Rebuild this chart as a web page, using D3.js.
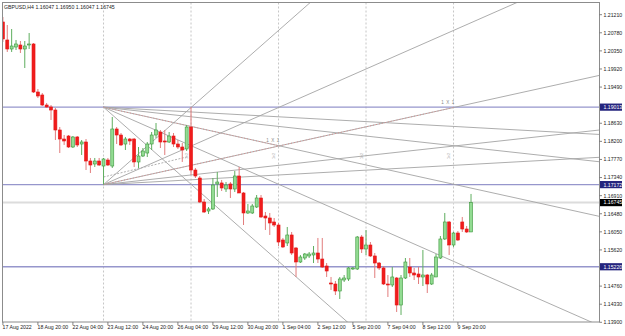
<!DOCTYPE html>
<html>
<head>
<meta charset="utf-8">
<script src="https://cdn.jsdelivr.net/npm/d3@7/dist/d3.min.js"></script>
<style>
html,body{margin:0;padding:0;background:#fff;}
svg{display:block;}
text{font-family:"Liberation Sans",Arial,sans-serif;}
</style>
</head>
<body>
<svg id="chart" width="625" height="336"></svg>
<script>
// ---------------- data ----------------
const chartTitle = "GBPUSD,H4  1.16047 1.16950 1.16047 1.16745";

const opens = [1.21037,1.20609,1.20395,1.20442,1.20490,1.20395,1.20490,1.20514,1.19373,1.19302,
1.19064,1.19017,1.18945,1.18470,1.18256,1.18327,1.18066,1.18304,1.18137,1.18185,
1.17733,1.17662,1.17733,1.17614,1.17757,1.17614,1.18494,1.18351,1.18137,1.18256,
1.18256,1.17710,1.17852,1.17923,1.18137,1.18351,1.18422,1.18209,1.18185,1.18327,
1.18137,1.18066,1.18019,1.18541,1.17519,1.17329,1.16759,1.16545,1.16593,1.17187,
1.17211,1.17068,1.17187,1.17068,1.17377,1.16973,1.16498,1.16498,1.16640,1.16854,
1.16426,1.16379,1.16284,1.16212,1.15856,1.15785,1.15975,1.15666,1.15333,1.15428,
1.15476,1.15500,1.15547,1.15404,1.15238,1.14834,1.14810,1.14644,1.14905,1.14929,
1.15167,1.15167,1.15927,1.15642,1.15737,1.15476,1.15309,1.15191,1.14810,1.14787,
1.14953,1.14311,1.14953,1.15214,1.15072,1.15048,1.14977,1.15024,1.14810,1.14977,
1.15428,1.15880,1.16284,1.15737,1.16022,1.16284,1.16117,1.16047];

const highs = [1.21155,1.20965,1.20870,1.20609,1.20585,1.20585,1.20775,1.20537,1.19444,1.19349,
1.19112,1.19064,1.18993,1.18541,1.18351,1.18351,1.18327,1.18327,1.18232,1.18256,
1.17805,1.17805,1.17805,1.17805,1.17805,1.18779,1.18541,1.18399,1.18304,1.18280,
1.18280,1.18066,1.18042,1.18185,1.18422,1.18636,1.18470,1.18470,1.18422,1.18399,
1.18232,1.18161,1.18589,1.19017,1.17567,1.17377,1.16830,1.16640,1.17329,1.17472,
1.17282,1.17234,1.17234,1.17496,1.17591,1.16997,1.16711,1.16711,1.16925,1.16925,
1.16521,1.16498,1.16379,1.16260,1.15904,1.16165,1.16046,1.15690,1.15500,1.15547,
1.15571,1.15713,1.15904,1.15904,1.15309,1.14977,1.14882,1.14977,1.15024,1.15214,
1.15214,1.15951,1.15975,1.16094,1.15808,1.15547,1.15333,1.15238,1.15024,1.15214,
1.14977,1.15024,1.15428,1.15428,1.15191,1.15214,1.15618,1.15048,1.15072,1.15523,
1.15951,1.16498,1.16307,1.16046,1.16070,1.16403,1.16189,1.16950];

const lows = [1.20561,1.20324,1.20324,1.20371,1.20300,1.19943,1.20395,1.19349,1.19230,1.19040,
1.18993,1.18708,1.18232,1.17923,1.18114,1.18042,1.18042,1.18066,1.17876,1.17519,
1.17448,1.17591,1.17614,1.17172,1.17614,1.17567,1.18137,1.18090,1.17995,1.18114,
1.17591,1.17567,1.17828,1.17828,1.17995,1.18280,1.18042,1.17876,1.18161,1.18066,
1.18019,1.17710,1.17971,1.17401,1.17329,1.16735,1.16498,1.16474,1.16569,1.16878,
1.17020,1.16997,1.16854,1.16997,1.16973,1.16212,1.16474,1.16474,1.16616,1.16379,
1.16094,1.15975,1.16165,1.15713,1.15666,1.15713,1.15500,1.14977,1.15309,1.15381,
1.15428,1.15309,1.15309,1.15191,1.14977,1.14668,1.14549,1.14454,1.14858,1.14882,
1.15143,1.15143,1.15547,1.15500,1.15452,1.14953,1.15143,1.14787,1.14501,1.14739,
1.14145,1.14074,1.14929,1.14977,1.14905,1.14810,1.14763,1.14596,1.14787,1.14977,
1.15404,1.15856,1.15500,1.15690,1.15832,1.16046,1.16022,1.16047];

const closes = [1.20633,1.20395,1.20466,1.20514,1.20395,1.20466,1.20514,1.19373,1.19278,1.19064,
1.19017,1.18945,1.18470,1.18256,1.18209,1.18066,1.18304,1.18114,1.18185,1.17733,
1.17638,1.17733,1.17638,1.17781,1.17638,1.18494,1.18351,1.18114,1.18256,1.18209,
1.17710,1.17852,1.17971,1.18137,1.18351,1.18470,1.18185,1.18185,1.18327,1.18137,
1.18066,1.17995,1.18541,1.17519,1.17377,1.16759,1.16521,1.16593,1.17163,1.17234,
1.17092,1.17163,1.17068,1.17377,1.16973,1.16498,1.16545,1.16664,1.16854,1.16403,
1.16379,1.16260,1.16212,1.15808,1.15690,1.15975,1.15547,1.15333,1.15452,1.15523,
1.15523,1.15547,1.15404,1.15214,1.15119,1.14810,1.14644,1.14929,1.14953,1.15191,
1.15191,1.15927,1.15642,1.15737,1.15476,1.15309,1.15191,1.14810,1.14787,1.14977,
1.14311,1.14953,1.15333,1.15072,1.15024,1.14977,1.15024,1.14810,1.15024,1.15452,
1.15880,1.16284,1.15737,1.16022,1.15856,1.16117,1.16046,1.16745];

const timeLabels = ["17 Aug 2022","18 Aug 20:00","22 Aug 04:00","23 Aug 12:00","24 Aug 20:00",
  "26 Aug 04:00","29 Aug 12:00","30 Aug 20:00","1 Sep 04:00","2 Sep 12:00","5 Sep 20:00",
  "7 Sep 04:00","8 Sep 12:00","9 Sep 20:00"];
const timeLabelBars = [0,8,16,24,32,40,48,56,64,72,80,88,96,104];
const gridBars = [23,43,63,83,103];

const priceTicks = [1.21210,1.20780,1.20350,1.19920,1.19490,1.19060,1.18630,1.18200,1.17770,
  1.17340,1.16910,1.16480,1.16050,1.15620,1.15190,1.14760,1.14330,1.13900];

const hLineLevels = [1.19013, 1.17172, 1.15220];
const lastPrice = 1.16745;

// Gann fans: anchor bar/price, direction (+1 up, -1 down), bar of 2nd point
const fanAnchorBars = [23, 23];
const fanAnchorPrices = [1.19013, 1.17172];
const fanDirections = [-1, 1];
const fanSecondBars = [63, 103];
const gannStep = 0.000229;           // price per bar of the 1x1 ray
const fanRatios = [4, 2, 1, 0.5, 0.25];

// extra dashed trend segment
const dashBars = [23, 42];
const dashPrices = [1.17353, 1.17828];
const smallLabelBars = [42, 62, 82, 102];
const smallLabelPrice = 1.17852;

// ---------------- drawing ----------------
const svg = d3.select('#chart');
const P = {l:2.5, t:2.5, r:599.5, b:322};
const lastBar = opens.length - 1;
const x = d3.scaleLinear().domain([0, lastBar]).range([2.9, 2.9 + 4.375 * lastBar]);
const y = d3.scaleLinear().domain([1.13900, 1.21210]).range([322.3, 14.7]);

svg.append('rect').attr('width',625).attr('height',336).attr('fill','#fff');

svg.append('defs').append('clipPath').attr('id','plotClip').append('rect')
  .attr('x',P.l).attr('y',P.t).attr('width',P.r-P.l).attr('height',P.b-P.t);

const plot = svg.append('g').attr('clip-path','url(#plotClip)');

// vertical grid
plot.selectAll('line.grid').data(gridBars).join('line')
  .attr('x1', d=>x(d)).attr('x2', d=>x(d)).attr('y1', P.t).attr('y2', P.b)
  .attr('stroke','#b8b8b8').attr('stroke-width',0.8).attr('stroke-dasharray','2,2');

// current price line
plot.append('line').attr('x1',P.l).attr('x2',P.r).attr('y1',y(lastPrice)).attr('y2',y(lastPrice))
  .attr('stroke','#dcdcdc').attr('stroke-width',2);

// horizontal level lines
plot.selectAll('line.hl').data(hLineLevels).join('line')
  .attr('x1',P.l).attr('x2',P.r).attr('y1',d=>y(d)).attr('y2',d=>y(d))
  .attr('stroke','#9696cc').attr('stroke-width',1.4);

// gann fans
const lineGen = d3.line().x(d=>x(d[0])).y(d=>y(d[1]));
const farBar = 400;
fanAnchorBars.forEach((ab, k) => {
  const ap = fanAnchorPrices[k], dir = fanDirections[k];
  fanRatios.forEach(r => {
    const pts = [[ab, ap], [farBar, ap + dir * r * gannStep * (farBar - ab)]];
    plot.append('path').attr('d', lineGen(pts)).attr('fill','none')
      .attr('stroke','#a4a4a4').attr('stroke-width',0.9);
  });
  const sb = fanSecondBars[k];
  const sp = ap + dir * gannStep * (sb - ab);
  plot.append('path').attr('d', lineGen([[ab, ap],[sb, sp]])).attr('fill','none')
    .attr('stroke','#dc8a8a').attr('stroke-width',0.9).attr('stroke-dasharray','1,2');
  plot.append('text').attr('x', x(sb) + 1.5).attr('y', y(sp) - 3.5)
    .attr('text-anchor','end').attr('font-size',4.6).attr('fill','#8a8a8a')
    .attr('letter-spacing',0.6).text('1 X 1');
});

// dashed segment
plot.append('path').attr('d', lineGen(dashBars.map((b,i)=>[b, dashPrices[i]])))
  .attr('fill','none').attr('stroke','#a8a8a8').attr('stroke-width',0.9).attr('stroke-dasharray','2,1.5');

// small labels
plot.selectAll('text.sm').data(smallLabelBars).join('text')
  .attr('transform', d=>`translate(${x(d)+1},${y(smallLabelPrice)}) rotate(-90)`)
  .attr('text-anchor','middle').attr('font-size',3.6).attr('fill','#9a9a9a').text('1x2');

// candles
const bars = opens.map((o,i)=>({i, o, h:highs[i], l:lows[i], c:closes[i]}));
const up = d => d.c >= d.o;
plot.selectAll('line.wick').data(bars).join('line')
  .attr('x1', d=>x(d.i)).attr('x2', d=>x(d.i))
  .attr('y1', d=>y(d.h)).attr('y2', d=>y(d.l))
  .attr('stroke', d=> up(d) ? '#5fae5f' : '#e27c7c').attr('stroke-width',1);
plot.selectAll('rect.body').data(bars).join('rect')
  .attr('x', d=>x(d.i)-1.5).attr('width',3)
  .attr('y', d=>y(Math.max(d.o,d.c)))
  .attr('height', d=>Math.max(0.8, Math.abs(y(d.o)-y(d.c))))
  .attr('fill', d=> up(d) ? '#92dc92' : '#f01c1c')
  .attr('stroke', d=> up(d) ? '#3c963c' : '#e41414').attr('stroke-width',0.6);

// frame
svg.append('rect').attr('x',P.l).attr('y',P.t).attr('width',P.r-P.l).attr('height',P.b-P.t)
  .attr('fill','none').attr('stroke','#8c8c8c').attr('stroke-width',1);

// title
svg.append('text').attr('x',4).attr('y',8.6).attr('font-size',5.2).attr('fill','#222').text(chartTitle);

// right price axis (labels hidden where a price box sits, as in the terminal)
const boxLevels = hLineLevels.concat([lastPrice]);
const visibleTicks = priceTicks.filter(t => boxLevels.every(b => Math.abs(y(t) - y(b)) > 6.5));
const ra = svg.append('g');
ra.selectAll('line').data(priceTicks).join('line')
  .attr('x1',P.r).attr('x2',P.r+2.5).attr('y1',d=>y(d)).attr('y2',d=>y(d))
  .attr('stroke','#666').attr('stroke-width',0.8);
ra.selectAll('text').data(visibleTicks).join('text')
  .attr('x',603.5).attr('y',d=>y(d)+1.9).attr('font-size',5.2).attr('fill','#222')
  .text(d=>d.toFixed(5));

// price boxes
const boxes = hLineLevels.map(v=>({v, bg:'#25257e'})).concat([{v:lastPrice, bg:'#000'}]);
const bx = svg.selectAll('g.box').data(boxes).join('g');
bx.append('rect').attr('x',600).attr('y',d=>y(d.v)-3.6).attr('width',22).attr('height',7.2)
  .attr('fill',d=>d.bg);
bx.append('text').attr('x',603.5).attr('y',d=>y(d.v)+1.9).attr('font-size',5.2).attr('fill','#fff')
  .text(d=>d.v.toFixed(5));

// bottom time axis
const ta = svg.append('g');
ta.selectAll('line').data(timeLabelBars).join('line')
  .attr('x1',d=>x(d)).attr('x2',d=>x(d)).attr('y1',P.b).attr('y2',P.b+3)
  .attr('stroke','#666').attr('stroke-width',0.8);
ta.selectAll('text').data(timeLabelBars).join('text')
  .attr('x',d=>x(d)-0.3).attr('y',328.5).attr('font-size',5.2).attr('fill','#222')
  .text((d,i)=>timeLabels[i]);
</script>
</body>
</html>
